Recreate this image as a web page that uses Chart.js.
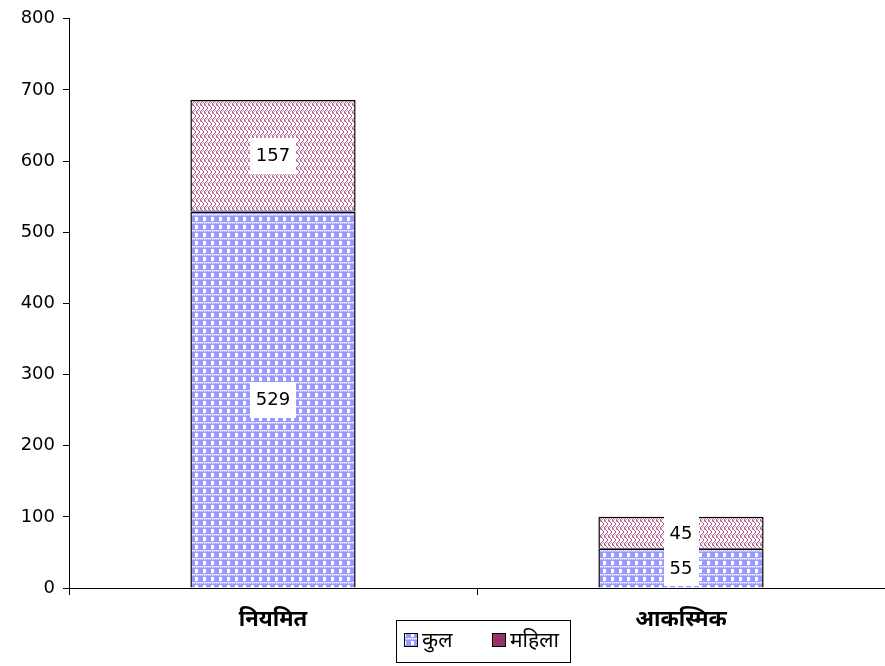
<!DOCTYPE html>
<html>
<head>
<meta charset="utf-8">
<script src="https://cdn.jsdelivr.net/npm/chart.js@4/dist/chart.umd.min.js"></script>
<style>
html,body{margin:0;padding:0;background:#fff;}
#wrap{position:relative;width:885px;height:666px;}
</style>
</head>
<body>
<div id="wrap"><canvas id="c" width="885" height="666"></canvas></div>
<script>
const categories = ['नियमित', 'आकस्मिक'];
const kulValues = [529, 55];
const mahilaValues = [157, 45];
const seriesNames = ['कुल', 'महिला'];
const yTicks = [0, 100, 200, 300, 400, 500, 600, 700, 800];

const DEVA = '"Noto Sans", "Lohit Devanagari", "Noto Sans Devanagari", sans-serif';
const NUMF = '"DejaVu Sans", Verdana, sans-serif';

function makeBluePattern() {
  const t = document.createElement('canvas');
  t.width = 8; t.height = 8;
  const g = t.getContext('2d');
  g.fillStyle = '#9999ff'; g.fillRect(0, 0, 8, 8);
  g.fillStyle = '#ffffff'; g.fillRect(3, 1, 3, 4);
  g.fillStyle = '#ccccff'; g.fillRect(0, 6, 8, 1);
  g.fillStyle = '#ffffff';
  for (let x = 0; x < 8; x += 2) g.fillRect(x, 6, 1, 1);
  g.fillStyle = '#bbbbff'; g.fillRect(0, 7, 8, 1);
  return g.createPattern(t, 'repeat');
}
function makePinkPattern() {
  const t = document.createElement('canvas');
  t.width = 8; t.height = 8;
  const g = t.getContext('2d');
  g.fillStyle = '#ffffff'; g.fillRect(0, 0, 8, 8);
  g.fillStyle = '#b05888';
  const pts = [[0,0],[1,1],[2,2],[3,3],[4,0],[5,1],[6,2],[7,3],
               [3,4],[2,5],[1,6],[0,7],[7,4],[6,5],[5,6],[4,7]];
  pts.forEach(p => g.fillRect(p[0], p[1], 1, 1));
  g.fillStyle = '#d8a0c0';
  [[1,0],[5,0],[2,7],[6,7],[0,1],[4,1],[3,6],[7,6]].forEach(p => g.fillRect(p[0], p[1], 1, 1));
  return g.createPattern(t, 'repeat');
}
const bluePat = makeBluePattern();
const pinkPat = makePinkPattern();

const labelPlugin = {
  id: 'segLabels',
  afterDatasetsDraw(chart) {
    const ctx = chart.ctx;
    ctx.save();
    ctx.font = '18px ' + NUMF;
    ctx.textAlign = 'center';
    ctx.textBaseline = 'middle';
    chart.data.datasets.forEach((ds, di) => {
      const meta = chart.getDatasetMeta(di);
      meta.data.forEach((bar, i) => {
        const v = ds.data[i];
        const yc = (bar.y + bar.base) / 2;
        const txt = String(v);
        const w = Math.round(ctx.measureText(txt).width + 12);
        const h = 36;
        ctx.fillStyle = '#ffffff';
        ctx.fillRect(Math.round(bar.x - w / 2), Math.round(yc - h / 2), w, h);
        ctx.fillStyle = '#000000';
        ctx.fillText(txt, bar.x, yc + 1);
      });
    });
    ctx.restore();
  }
};

const legendPlugin = {
  id: 'boxLegend',
  afterDraw(chart) {
    const ctx = chart.ctx;
    ctx.save();
    ctx.fillStyle = '#ffffff';
    ctx.fillRect(396.5, 620.5, 174, 42);
    ctx.strokeStyle = '#000000';
    ctx.lineWidth = 1;
    ctx.strokeRect(396.5, 620.5, 174, 42);
    const items = [
      {x: 404, fill: bluePat, text: seriesNames[0]},
      {x: 492, fill: '#993366', text: seriesNames[1]}
    ];
    ctx.font = '21px ' + DEVA;
    ctx.textBaseline = 'middle';
    ctx.textAlign = 'left';
    items.forEach(it => {
      ctx.fillStyle = it.fill;
      ctx.fillRect(it.x, 633, 13, 13);
      ctx.strokeStyle = '#000';
      ctx.strokeRect(it.x + 0.5, 633.5, 13, 13);
      ctx.fillStyle = '#000';
      ctx.fillText(it.text, it.x + 18, 641);
    });
    ctx.restore();
  }
};

new Chart(document.getElementById('c'), {
  type: 'bar',
  data: {
    labels: categories,
    datasets: [
      {label: seriesNames[0], data: kulValues, backgroundColor: bluePat, borderColor: '#000',
       borderWidth: {top: 1.5, left: 1.5, right: 1.5, bottom: 0}, borderSkipped: 'bottom'},
      {label: seriesNames[1], data: mahilaValues, backgroundColor: pinkPat, borderColor: '#000',
       borderWidth: {top: 1.5, left: 1.5, right: 1.5, bottom: 1.2}, borderSkipped: false}
    ]
  },
  options: {
    responsive: false,
    animation: false,
    layout: {padding: {top: 14, right: 0, bottom: 0, left: 0}},
    plugins: {legend: {display: false}, tooltip: {enabled: false}},
    datasets: {bar: {categoryPercentage: 1, barPercentage: 0.405}},
    scales: {
      x: {
        stacked: true,
        offset: true,
        grid: {display: true, drawOnChartArea: false, drawTicks: true, tickLength: 7, color: '#000', offset: true},
        border: {display: true, color: '#000', width: 1},
        ticks: {color: '#000', padding: 12, font: {size: 22, weight: 'bold', family: DEVA}},
        afterFit(s) { s.height = 78; }
      },
      y: {
        stacked: true,
        min: 0, max: 800,
        afterBuildTicks(s) { s.ticks = yTicks.map(v => ({value: v})); },
        grid: {display: true, drawOnChartArea: false, drawTicks: true, tickLength: 6, color: '#000'},
        border: {display: true, color: '#000', width: 1},
        ticks: {color: '#000', padding: 8, font: {size: 18, family: NUMF}},
        afterFit(s) { s.width = 69; }
      }
    }
  },
  plugins: [labelPlugin, legendPlugin]
});
</script>
</body>
</html>
